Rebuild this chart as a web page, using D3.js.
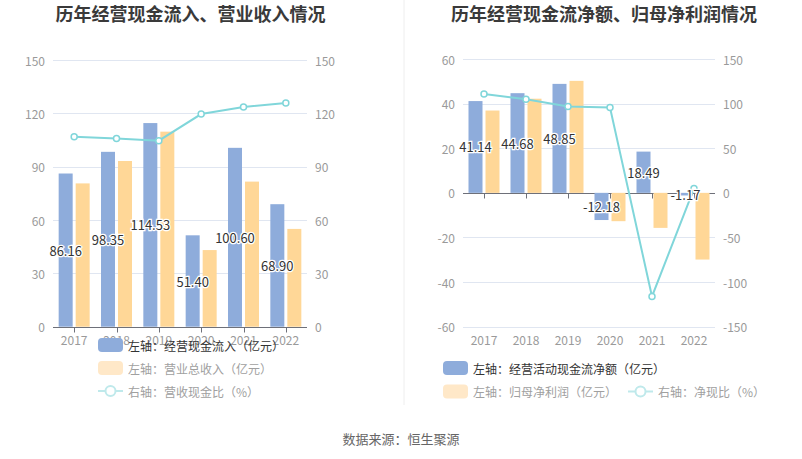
<!DOCTYPE html>
<html><head><meta charset="utf-8">
<script src="https://cdn.jsdelivr.net/npm/d3@7/dist/d3.min.js"></script>
<style>
body{margin:0;background:#fff;}
svg{display:block;font-family:"Noto Sans CJK SC","Noto Sans",sans-serif;}
</style></head>
<body><svg id="chart" width="802" height="459"></svg>
<script>
const years = ["2017","2018","2019","2020","2021","2022"];
// Left chart
const cashInflow = [86.16, 98.35, 114.53, 51.40, 100.60, 68.90];
const revenue = [80.6, 93.2, 109.7, 43.1, 81.6, 55.0];
const cashRevRatio = [106.9, 105.8, 104.6, 119.6, 123.6, 125.8];
const leftTicksL = [0, 30, 60, 90, 120, 150];
const leftTicksR = [0, 30, 60, 90, 120, 150];
// Right chart
const netCash = [41.14, 44.68, 48.85, -12.18, 18.49, -1.17];
const netProfit = [36.9, 42.2, 50.2, -12.7, -15.7, -29.9];
const netCashRatio = [110.9, 104.9, 96.7, 95.6, -116.1, 4.8];
const rightTicksL = [-60, -40, -20, 0, 20, 40, 60];
const rightTicksR = [-150, -100, -50, 0, 50, 100, 150];

const titles = ["历年经营现金流入、营业收入情况", "历年经营现金流净额、归母净利润情况"];
const legendLeft = ["左轴：经营现金流入（亿元）", "左轴：营业总收入（亿元）", "右轴：营收现金比（%）"];
const legendRight = ["左轴：经营活动现金流净额（亿元）", "左轴：归母净利润（亿元）", "右轴：净现比（%）"];
const source = "数据来源：恒生聚源";

const BLUE = "#8eacdb", ORANGE = "#ffd797", LINE = "#80d6da";
const svg = d3.select("#chart");

svg.append("line").attr("x1",404).attr("x2",404).attr("y1",0).attr("y2",405)
  .attr("stroke","#eeeeee").attr("stroke-width",1);

svg.append("text").attr("x",190.5).attr("y",13).attr("text-anchor","middle")
  .attr("dominant-baseline","central").attr("font-size",18).attr("font-weight","bold")
  .attr("fill","#3a3a3a").text(titles[0]);
svg.append("text").attr("x",604).attr("y",13).attr("text-anchor","middle")
  .attr("dominant-baseline","central").attr("font-size",18).attr("font-weight","bold")
  .attr("fill","#3a3a3a").text(titles[1]);

svg.append("text").attr("x",401).attr("y",438).attr("text-anchor","middle")
  .attr("dominant-baseline","central").attr("font-size",13).attr("fill","#666")
  .text(source);

function drawChart(cfg){
  const g = svg.append("g");
  const x = d3.scaleBand().domain(years).range([cfg.x0, cfg.x1]);
  const yL = d3.scaleLinear().domain(cfg.dl).range([cfg.yb, cfg.yt]);
  const yR = d3.scaleLinear().domain(cfg.dr).range([cfg.yb, cfg.yt]);
  const cx = d => x(d) + x.bandwidth()/2;

  // grid
  g.selectAll(".grid").data(cfg.tl).enter().append("line")
    .attr("x1",cfg.x0).attr("x2",cfg.x1)
    .attr("y1",d=>Math.round(yL(d))+0.5).attr("y2",d=>Math.round(yL(d))+0.5)
    .attr("stroke","#e0e6f1");
  // left labels
  g.selectAll(".tl").data(cfg.tl).enter().append("text")
    .attr("x",cfg.x0-8).attr("y",d=>yL(d)).attr("text-anchor","end")
    .attr("dominant-baseline","central").attr("font-size",12).attr("fill","#9a9a9a")
    .text(d=>d);
  g.selectAll(".tr").data(cfg.tr).enter().append("text")
    .attr("x",cfg.x1+8).attr("y",d=>yR(d)).attr("text-anchor","start")
    .attr("dominant-baseline","central").attr("font-size",12).attr("fill","#9a9a9a")
    .text(d=>d);
  // x labels
  g.selectAll(".xl").data(years).enter().append("text")
    .attr("x",d=>cx(d)).attr("y",cfg.yb+13).attr("text-anchor","middle")
    .attr("dominant-baseline","central").attr("font-size",12).attr("fill","#9a9a9a")
    .text(d=>d);
  // zero axis
  const y0 = Math.round(yL(0))+0.5;
  g.append("line").attr("x1",cfg.x0).attr("x2",cfg.x1).attr("y1",y0).attr("y2",y0)
    .attr("stroke","#6e7079");
  g.selectAll(".tick").data(years).enter().append("line")
    .attr("x1",d=>Math.round(cx(d))+0.5).attr("x2",d=>Math.round(cx(d))+0.5)
    .attr("y1",y0).attr("y2",y0+5).attr("stroke","#6e7079");

  const bw = 14;
  const bar = (data, off, color) => g.selectAll(null).data(data).enter().append("rect")
    .attr("x",(d,i)=>cx(years[i])+off).attr("width",bw)
    .attr("y",d=>Math.min(yL(d),yL(0))).attr("height",d=>Math.abs(yL(d)-yL(0)))
    .attr("fill",color);
  bar(cfg.b1, -15.5, BLUE);
  bar(cfg.b2, 1.5, ORANGE);

  // line
  const line = d3.line().x((d,i)=>cx(years[i])).y(d=>yR(d));
  g.append("path").datum(cfg.ln).attr("d",line).attr("fill","none")
    .attr("stroke",LINE).attr("stroke-width",2);
  g.selectAll(null).data(cfg.ln).enter().append("circle")
    .attr("cx",(d,i)=>cx(years[i])).attr("cy",d=>yR(d)).attr("r",3)
    .attr("fill","#fff").attr("stroke",LINE).attr("stroke-width",1.5);

  // labels
  g.selectAll(null).data(cfg.b1).enter().append("text")
    .attr("x",(d,i)=>cx(years[i])-8.5).attr("y",d=>(yL(d)+yL(0))/2)
    .attr("text-anchor","middle").attr("dominant-baseline","central")
    .attr("font-size",13).attr("fill","#333").attr("stroke","#fff")
    .attr("stroke-width",2.5).attr("paint-order","stroke")
    .text(d=>d.toFixed(2));

  // legend
  cfg.legend.forEach((it)=>{
    if(it.type==="rect"){
      g.append("rect").attr("x",it.x).attr("y",it.y-7).attr("width",25).attr("height",14)
        .attr("rx",4).attr("fill",it.color);
    } else {
      g.append("line").attr("x1",it.x).attr("x2",it.x+25).attr("y1",it.y).attr("y2",it.y)
        .attr("stroke",it.color).attr("stroke-width",2);
      g.append("circle").attr("cx",it.x+12.5).attr("cy",it.y).attr("r",5)
        .attr("fill","#fff").attr("stroke",it.color).attr("stroke-width",2);
    }
    g.append("text").attr("x",it.x+30).attr("y",it.y).attr("dominant-baseline","central")
      .attr("font-size",12).attr("fill",it.tc).text(it.text);
  });
}

drawChart({x0:53,x1:307,yt:60,yb:326.7,dl:[0,150],dr:[0,150],tl:leftTicksL,tr:leftTicksR,
  b1:cashInflow,b2:revenue,ln:cashRevRatio,
  legend:[
    {type:"rect",x:98,y:345,color:BLUE,text:legendLeft[0],tc:"#333"},
    {type:"rect",x:98,y:368,color:"#ffe8c8",text:legendLeft[1],tc:"#a0a0a0"},
    {type:"line",x:98,y:391,color:"#bfe9eb",text:legendLeft[2],tc:"#a0a0a0"}
  ]});
drawChart({x0:463,x1:715,yt:59,yb:326.7,dl:[-60,60],dr:[-150,150],tl:rightTicksL,tr:rightTicksR,
  b1:netCash,b2:netProfit,ln:netCashRatio,
  legend:[
    {type:"rect",x:443,y:368,color:BLUE,text:legendRight[0],tc:"#333"},
    {type:"rect",x:443,y:391.5,color:"#ffe8c8",text:legendRight[1],tc:"#a0a0a0"},
    {type:"line",x:628,y:391.5,color:"#bfe9eb",text:legendRight[2],tc:"#a0a0a0"}
  ]});
</script></body></html>
